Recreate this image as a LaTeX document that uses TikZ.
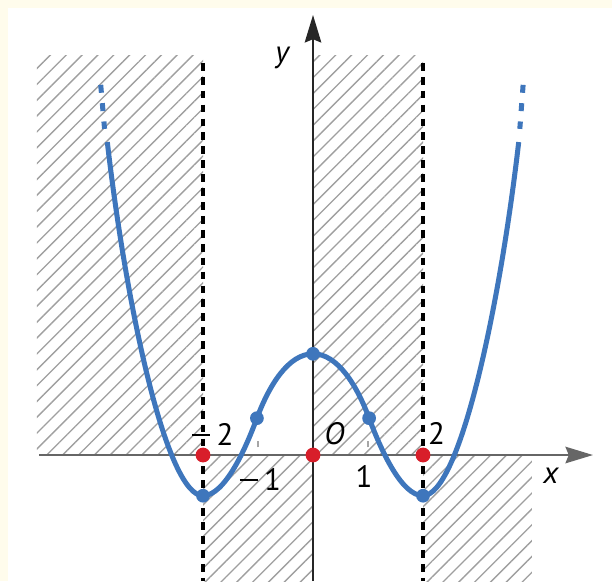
\documentclass[tikz,border=0pt]{standalone}
\usepackage{fontspec}
\setmainfont{PT Sans}
\usepackage{tikz}
\usetikzlibrary{arrows.meta,patterns.meta}
\definecolor{crv}{RGB}{62,118,188}
\definecolor{rdot}{RGB}{216,30,42}
\definecolor{cream}{RGB}{255,252,236}
\newcommand{\mn}{\rule[0.3em]{0.58em}{0.075em}\kern0.2em}
\tikzset{
  hatch/.style={pattern={Lines[angle=45,distance=5.8pt,line width=0.7pt]}, pattern color=gray!75},
  ax/.style={line width=1.1pt, -{Stealth[length=5mm,width=3mm,inset=0.6mm]}},
  asym/.style={line width=1.6pt, dash pattern=on 4pt off 3.2pt},
  graph/.style={crv, line width=2.6pt},
  cont/.style={crv, line width=2.6pt, dash pattern=on 4.1pt off 5.4pt},
  bdot/.style={circle, fill=crv, inner sep=0pt, minimum size=2.5mm},
  rdt/.style={circle, fill=rdot, inner sep=0pt, minimum size=2.7mm},
  lbl/.style={font=\fontsize{16pt}{19pt}\selectfont, inner sep=0pt},
  tk/.style={gray!70, line width=0.6pt}
}

\begin{document}
\begin{tikzpicture}
\useasboundingbox (-5.691,-2.291) rectangle (5.436,8.273);
\fill[cream] (-5.691,-2.291) rectangle (5.436,8.273);
\fill[white] (-5.545,-2.291) rectangle (5.436,8.127);
\fill[hatch] (-5.02,0) rectangle (-2,7.27);
\fill[hatch] (0,0) rectangle (2,7.27);
\fill[hatch] (-2,-2.291) rectangle (0,0);
\fill[hatch] (2,-2.291) rectangle (3.98,0);
\draw[asym] (-2,7.13) -- (-2,-2.291);
\draw[asym] (2,7.13) -- (2,-2.291);
\draw[ax, black!60] (-4.98,0) -- (5.09,0);
\draw[ax, black!85] (0,-2.291) -- (0,8.0);
\draw[tk] (-1,0.14) -- (-1,0.26);
\draw[tk] (1,0.14) -- (1,0.26);
\coordinate (el) at (-3.74,5.69);
\coordinate (er) at (3.74,5.69);
\draw[graph] (el) .. controls (-3.38,2.58) and (-2.65,-0.74) .. (-2,-0.74)
  .. controls (-1.6,-0.74) and (-1.22,0.13) .. (-1.02,0.67)
  .. controls (-0.8,1.26) and (-0.45,1.84) .. (0,1.84)
  .. controls (0.45,1.84) and (0.8,1.26) .. (1.02,0.67)
  .. controls (1.22,0.13) and (1.6,-0.74) .. (2,-0.74)
  .. controls (2.65,-0.74) and (3.38,2.58) .. (er);
\draw[cont] (-3.86,6.73) -- (-3.79,5.93);
\draw[cont] (3.82,6.73) -- (3.76,5.93);
\node[rdt] (zl) at (-2,0) {};
\node[rdt] (zo) at (0,0) {};
\node[rdt] (zr) at (2,0) {};
\node[bdot] (minl) at (-2,-0.74) {};
\node[bdot] (pl) at (-1.02,0.67) {};
\node[bdot] (top) at (0,1.84) {};
\node[bdot] (pr) at (1.02,0.67) {};
\node[bdot] (minr) at (2,-0.74) {};
\node[lbl] (ly) at (-0.545,7.22) {\textit{y}};
\node[lbl] (lx) at (4.33,-0.38) {\textit{x}};
\node[lbl] (lo) at (0.39,0.38) {\textit{O}};
\node[lbl] (lm2) at (-1.82,0.38) {\mn 2};
\node[lbl] (lp2) at (2.245,0.40) {2};
\node[lbl] (lm1) at (-0.955,-0.44) {\mn 1};
\node[lbl] (lp1) at (0.93,-0.39) {1};
\end{tikzpicture}
\end{document}
